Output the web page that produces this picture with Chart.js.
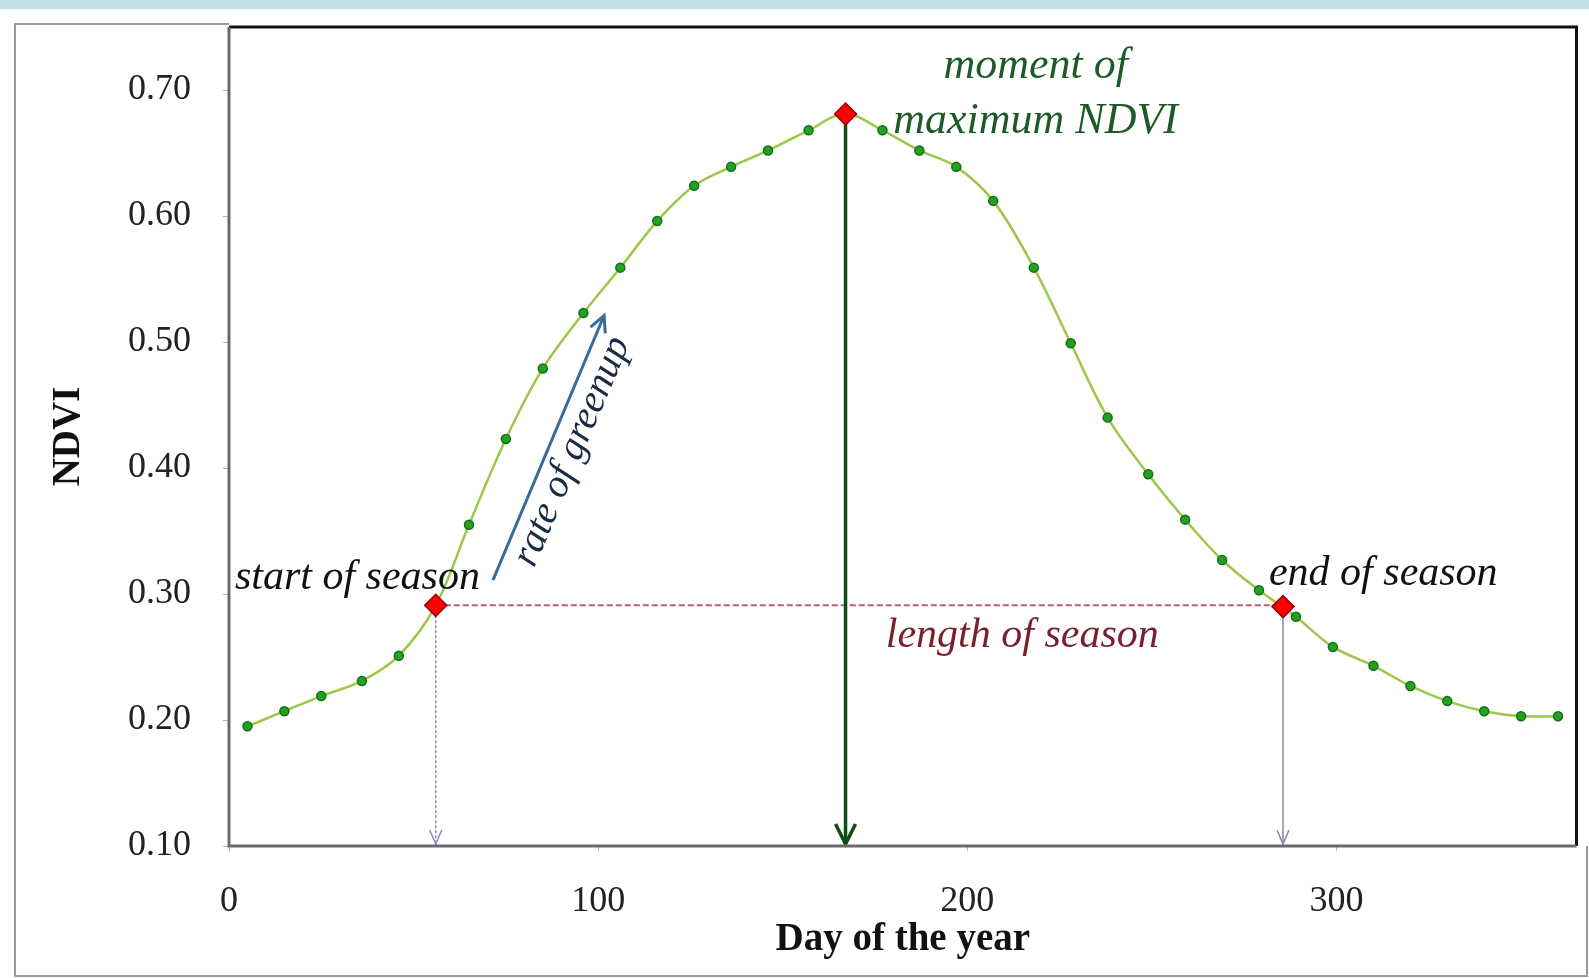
<!DOCTYPE html>
<html>
<head>
<meta charset="utf-8">
<script src="https://cdn.jsdelivr.net/npm/chart.js@4.4.1/dist/chart.umd.min.js"></script>
<style>
html,body{margin:0;padding:0;background:#fff;}
canvas{display:block;}
</style>
</head>
<body>
<canvas id="c" width="1589" height="978"></canvas>
<script>
// ---- data ----
const days = [5, 15, 25, 36, 46, 56, 65, 75, 85, 96, 106, 116, 126, 136, 146, 157, 167, 177, 187, 197, 207, 218, 228, 238, 249, 259, 269, 279, 289, 299, 310, 320, 330, 340, 350, 360];
const ndvi = [0.195, 0.207, 0.219, 0.231, 0.251, 0.291, 0.355, 0.423, 0.479, 0.523, 0.559, 0.596, 0.624, 0.639, 0.652, 0.668, 0.681, 0.668, 0.652, 0.639, 0.612, 0.559, 0.499, 0.440, 0.395, 0.359, 0.327, 0.303, 0.282, 0.258, 0.243, 0.227, 0.215, 0.207, 0.203, 0.203];
const keyDays = [56, 167, 285.5];          // start of season, maximum, end of season
const keyNdvi = [0.291, 0.681, 0.290];
const xTicks = [0, 100, 200, 300];
const yTicks = [0.10, 0.20, 0.30, 0.40, 0.50, 0.60, 0.70];
const greenupFrom = {x: 71.5, y: 0.311};
const greenupTo = {x: 101.6, y: 0.521};
const notes = [
  {text: 'moment of',        x: 218.5, y: 0.719, color: '#1e5a28', align: 'center', size: 44, rot: 0},
  {text: 'maximum NDVI',     x: 218.5, y: 0.675, color: '#1e5a28', align: 'center', size: 44, rot: 0},
  {text: 'start of season',  x: 1.6,   y: 0.313, color: '#111111', align: 'left',   size: 42, rot: 0},
  {text: 'end of season',    x: 281.7, y: 0.316, color: '#111111', align: 'left',   size: 42, rot: 0},
  {text: 'length of season', x: 177.9, y: 0.267, color: '#7a1f2e', align: 'left',   size: 42, rot: 0},
  {text: 'rate of greenup',  x: 93.0,  y: 0.413, color: '#1a2a45', align: 'center', size: 40, rot: -67}
];

const SERIF = '"Liberation Serif", "DejaVu Serif", serif';

function arrow(ctx, x1, y1, x2, y2, color, width, headLen, headHalf, dash) {
  ctx.save();
  ctx.strokeStyle = color;
  ctx.lineWidth = width;
  ctx.setLineDash(dash || []);
  ctx.beginPath();
  ctx.moveTo(x1, y1);
  ctx.lineTo(x2, y2);
  ctx.stroke();
  ctx.setLineDash([]);
  const a = Math.atan2(y2 - y1, x2 - x1);
  const c = Math.cos(a), s = Math.sin(a);
  ctx.beginPath();
  ctx.moveTo(x2 - headLen * c + headHalf * s, y2 - headLen * s - headHalf * c);
  ctx.lineTo(x2, y2);
  ctx.lineTo(x2 - headLen * c - headHalf * s, y2 - headLen * s + headHalf * c);
  ctx.stroke();
  ctx.restore();
}

const deco = {
  id: 'deco',
  beforeDraw(chart) {
    const ctx = chart.ctx, ca = chart.chartArea;
    ctx.save();
    ctx.fillStyle = '#ffffff';
    ctx.fillRect(0, 0, chart.width, chart.height);
    ctx.fillStyle = '#bfe0e6';
    ctx.fillRect(0, 0, chart.width, 9);
    ctx.strokeStyle = '#9a9a9a';
    ctx.lineWidth = 2;
    ctx.beginPath();
    ctx.moveTo(ca.left, 24);
    ctx.lineTo(15, 24);
    ctx.lineTo(15, 976);
    ctx.lineTo(1587, 976);
    ctx.lineTo(1587, ca.bottom);
    ctx.stroke();
    ctx.restore();
  },
  beforeDatasetsDraw(chart) {
    const ctx = chart.ctx, xs = chart.scales.x, ys = chart.scales.y;
    const yBase = ys.getPixelForValue(ys.min) - 2;
    // length of season (dashed)
    ctx.save();
    ctx.strokeStyle = '#b8606c';
    ctx.lineWidth = 2;
    ctx.setLineDash([6, 3]);
    ctx.beginPath();
    const ly = ys.getPixelForValue(keyNdvi[0]);
    ctx.moveTo(xs.getPixelForValue(keyDays[0]), ly);
    ctx.lineTo(xs.getPixelForValue(keyDays[2]), ly);
    ctx.stroke();
    ctx.restore();
    // start of season drop
    const sx = xs.getPixelForValue(keyDays[0]);
    arrow(ctx, sx, ys.getPixelForValue(keyNdvi[0]), sx, yBase, '#9484c8', 1.5, 14, 6, [3, 2]);
    // end of season drop
    const ex = xs.getPixelForValue(keyDays[2]);
    arrow(ctx, ex, ys.getPixelForValue(keyNdvi[2]), ex, yBase, '#8c84a8', 1.5, 14, 6);
    // maximum drop
    const mx = xs.getPixelForValue(keyDays[1]);
    arrow(ctx, mx, ys.getPixelForValue(keyNdvi[1]), mx, yBase, '#0b4f14', 3.5, 20, 10);
    // rate of greenup
    arrow(ctx, xs.getPixelForValue(greenupFrom.x), ys.getPixelForValue(greenupFrom.y),
          xs.getPixelForValue(greenupTo.x), ys.getPixelForValue(greenupTo.y), '#3a6b98', 3, 16, 8);
  },
  afterDatasetsDraw(chart) {
    const ctx = chart.ctx, ca = chart.chartArea, xs = chart.scales.x, ys = chart.scales.y;
    ctx.save();
    // plot frame
    ctx.lineWidth = 3;
    ctx.strokeStyle = '#111';
    ctx.beginPath();
    ctx.moveTo(ca.left, ca.top); ctx.lineTo(ca.right, ca.top); ctx.lineTo(ca.right, ca.bottom);
    ctx.stroke();
    ctx.strokeStyle = '#6a6a6a';
    ctx.beginPath();
    ctx.moveTo(ca.left, ca.top); ctx.lineTo(ca.left, ca.bottom); ctx.lineTo(ca.right, ca.bottom);
    ctx.stroke();
    // annotations
    notes.forEach(n => {
      ctx.save();
      ctx.translate(xs.getPixelForValue(n.x), ys.getPixelForValue(n.y));
      ctx.rotate(n.rot * Math.PI / 180);
      ctx.font = 'italic ' + n.size + 'px ' + SERIF;
      ctx.fillStyle = n.color;
      ctx.textAlign = n.align;
      ctx.textBaseline = 'middle';
      ctx.fillText(n.text, 0, 0);
      ctx.restore();
    });
    ctx.restore();
  }
};

new Chart(document.getElementById('c'), {
  type: 'scatter',
  data: {
    datasets: [
      {
        label: 'key dates',
        data: keyDays.map((d, i) => ({x: d, y: keyNdvi[i]})),
        pointStyle: 'rectRot',
        pointRadius: 11,
        backgroundColor: '#ff0000',
        borderColor: '#990000',
        borderWidth: 1.5,
        showLine: false,
        order: 0
      },
      {
        label: 'NDVI',
        data: days.map((d, i) => ({x: d, y: ndvi[i]})),
        showLine: true,
        borderColor: '#9cc84a',
        borderWidth: 2.5,
        tension: 0.35,
        pointRadius: 4.5,
        pointBackgroundColor: '#24a024',
        pointBorderColor: '#137013',
        pointBorderWidth: 1.5,
        order: 1
      }
    ]
  },
  options: {
    responsive: false,
    animation: false,
    devicePixelRatio: 1,
    layout: {padding: {top: 27, right: 10, left: 0, bottom: 0}},
    plugins: {legend: {display: false}, tooltip: {enabled: false}},
    scales: {
      x: {
        type: 'linear', min: 0, max: 365,
        afterFit(s) { s.height = 132; s.paddingLeft = 0; s.paddingRight = 0; },
        afterBuildTicks(s) { s.ticks = xTicks.map(v => ({value: v})); },
        grid: {drawOnChartArea: false, drawTicks: true, tickLength: 5, color: '#b0b0b0'},
        border: {display: false},
        ticks: {font: {family: SERIF, size: 36}, color: '#222', padding: 29, maxRotation: 0,
                callback: v => String(v)},
        title: {display: true, text: 'Day of the year', color: '#111',
                font: {family: SERIF, size: 39, weight: 'bold'}, padding: {top: 0, bottom: 15}}
      },
      y: {
        type: 'linear', min: 0.10, max: 0.75,
        afterFit(s) { s.width = 229; s.paddingTop = 0; s.paddingBottom = 0; },
        afterBuildTicks(s) { s.ticks = yTicks.map(v => ({value: v})); },
        grid: {drawOnChartArea: false, drawTicks: true, tickLength: 6, color: '#b0b0b0'},
        border: {display: false},
        ticks: {font: {family: SERIF, size: 36}, color: '#222', padding: 32,
                callback: v => Number(v).toFixed(2)},
        title: {display: true, text: 'NDVI', color: '#111',
                font: {family: SERIF, size: 39, weight: 'bold'}, padding: {top: 46, bottom: 0}}
      }
    }
  },
  plugins: [deco]
});
</script>
</body>
</html>
